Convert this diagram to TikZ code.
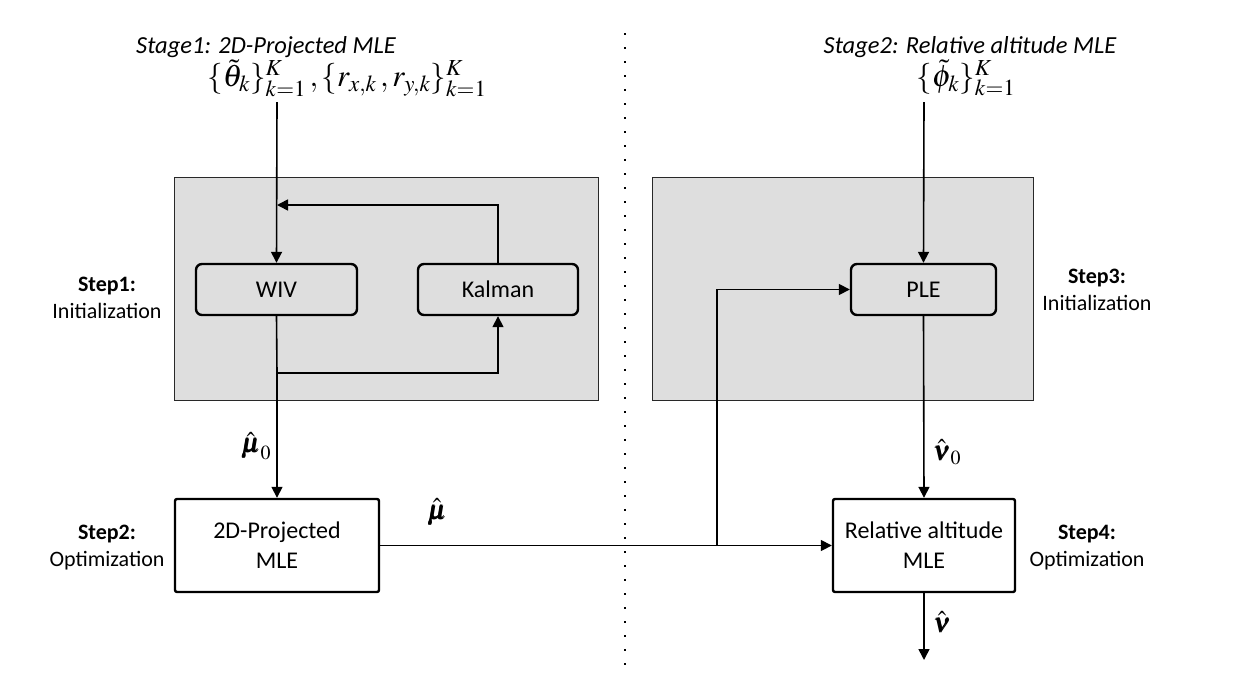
\RequirePackage{fix-cm}
\documentclass[tikz,border=0pt]{standalone}
\usepackage{amsmath}
\usepackage{mathptmx}
\usepackage{bm}
\usepackage{fontspec}
\setmainfont{Carlito}
\usetikzlibrary{arrows.meta,calc}
\definecolor{boxgray}{RGB}{222,222,222}
\definecolor{edgegray}{RGB}{40,40,40}
\tikzset{
  conn/.style={line width=1.6pt,-{Triangle[length=11pt,width=11pt]}},
  plain/.style={line width=1.6pt},
  innerbox/.style={draw,line width=2.4pt,rounded corners=6pt,fill=boxgray,inner sep=0pt,
     font=\fontsize{24}{28}\selectfont,anchor=center},
  mlebox/.style={draw,line width=2.4pt,rounded corners=2pt,fill=white,inner sep=0pt,
     font=\fontsize{24}{30}\selectfont,align=center,anchor=center},
  steplabel/.style={align=center,font=\fontsize{22}{27}\selectfont,anchor=center},
  stagetitle/.style={font=\fontsize{24.5}{28}\selectfont\itshape,anchor=center},
  mathlabel/.style={font=\fontsize{27}{32}\selectfont,anchor=center,inner sep=0pt},
  graybox/.style={draw=edgegray,line width=0.9pt,fill=boxgray}
}
\begin{document}
\begin{tikzpicture}[x=1pt,y=-1pt]
\useasboundingbox (0,0) rectangle (1235,683);
% gray panels
\draw[graybox] (174,177) rectangle (598,400);
\draw[graybox] (652,177) rectangle (1033,400);
% dotted divider
\draw[line width=2.4pt,dash pattern=on 2.4pt off 11.6pt] (625,33) -- (625,665);
% titles
\node[stagetitle] (t1) at (266,47) {Stage1: 2D-Projected MLE};
\node[stagetitle] (t2) at (970,47) {Stage2: Relative altitude MLE};
% inputs
\node[mathlabel,font=\fontsize{31}{34}\selectfont] (in1) at (347,78)
  {$\{\tilde{\theta}_k\}_{k=1}^{K}\,,\{r_{x,k}\,,r_{y,k}\}_{k=1}^{K}$};
\node[mathlabel,font=\fontsize{31}{34}\selectfont] (in2) at (966,78)
  {$\{\tilde{\phi}_k\}_{k=1}^{K}$};
\coordinate (in1b) at (277,102);
\coordinate (in2b) at (924,102);
% boxes
\node[innerbox,minimum width=161pt,minimum height=51pt] (wiv) at (276.5,289.5) {WIV};
\node[innerbox,minimum width=160pt,minimum height=51pt] (kal) at (498,289.5) {Kalman};
\node[innerbox,minimum width=145pt,minimum height=51pt] (ple) at (923.5,289.5) {PLE};
\node[mlebox,minimum width=204pt,minimum height=93pt] (mle1) at (277,545.5) {2D-Projected\\MLE};
\node[mlebox,minimum width=182pt,minimum height=93pt] (mle2) at (924,545.5) {Relative altitude\\MLE};
% step labels
\node[steplabel] (s1) at (107,298) {\textbf{Step1:}\\Initialization};
\node[steplabel] (s2) at (107,548) {\textbf{Step2:}\\Optimization};
\node[steplabel] (s3) at (1097,290) {\textbf{Step3:}\\Initialization};
\node[steplabel] (s4) at (1087,548) {\textbf{Step4:}\\Optimization};
% connectors
\coordinate (j1) at (277,205);
\coordinate (j2) at (277,373);
\coordinate (br) at (717,546);
\coordinate (out) at (924,660);
\draw[conn] (in1b) -- (wiv.north);
\draw[conn] (kal.north) |- (j1);
\draw[plain] (wiv.south) -- (j2);
\draw[conn] (j2) -| (kal.south);
\draw[conn] (j2) -- (mle1.north);
\draw[conn] (in2b) -- (ple.north);
\draw[conn] (ple.south) -- (mle2.north);
\draw[conn] (mle1.east) -- (mle2.west);
\draw[conn] (br) |- (ple.west);
\draw[conn] (mle2.south) -- (out);
% math labels
\node[mathlabel] (lmu0) at (256,446) {$\hat{\bm{\mu}}_0$};
\node[mathlabel] (lmu) at (437,512) {$\hat{\bm{\mu}}$};
\node[mathlabel] (lnu0) at (947,452) {$\hat{\bm{\nu}}_0$};
\node[mathlabel] (lnu) at (942,622) {$\hat{\bm{\nu}}$};
\end{tikzpicture}
\end{document}
